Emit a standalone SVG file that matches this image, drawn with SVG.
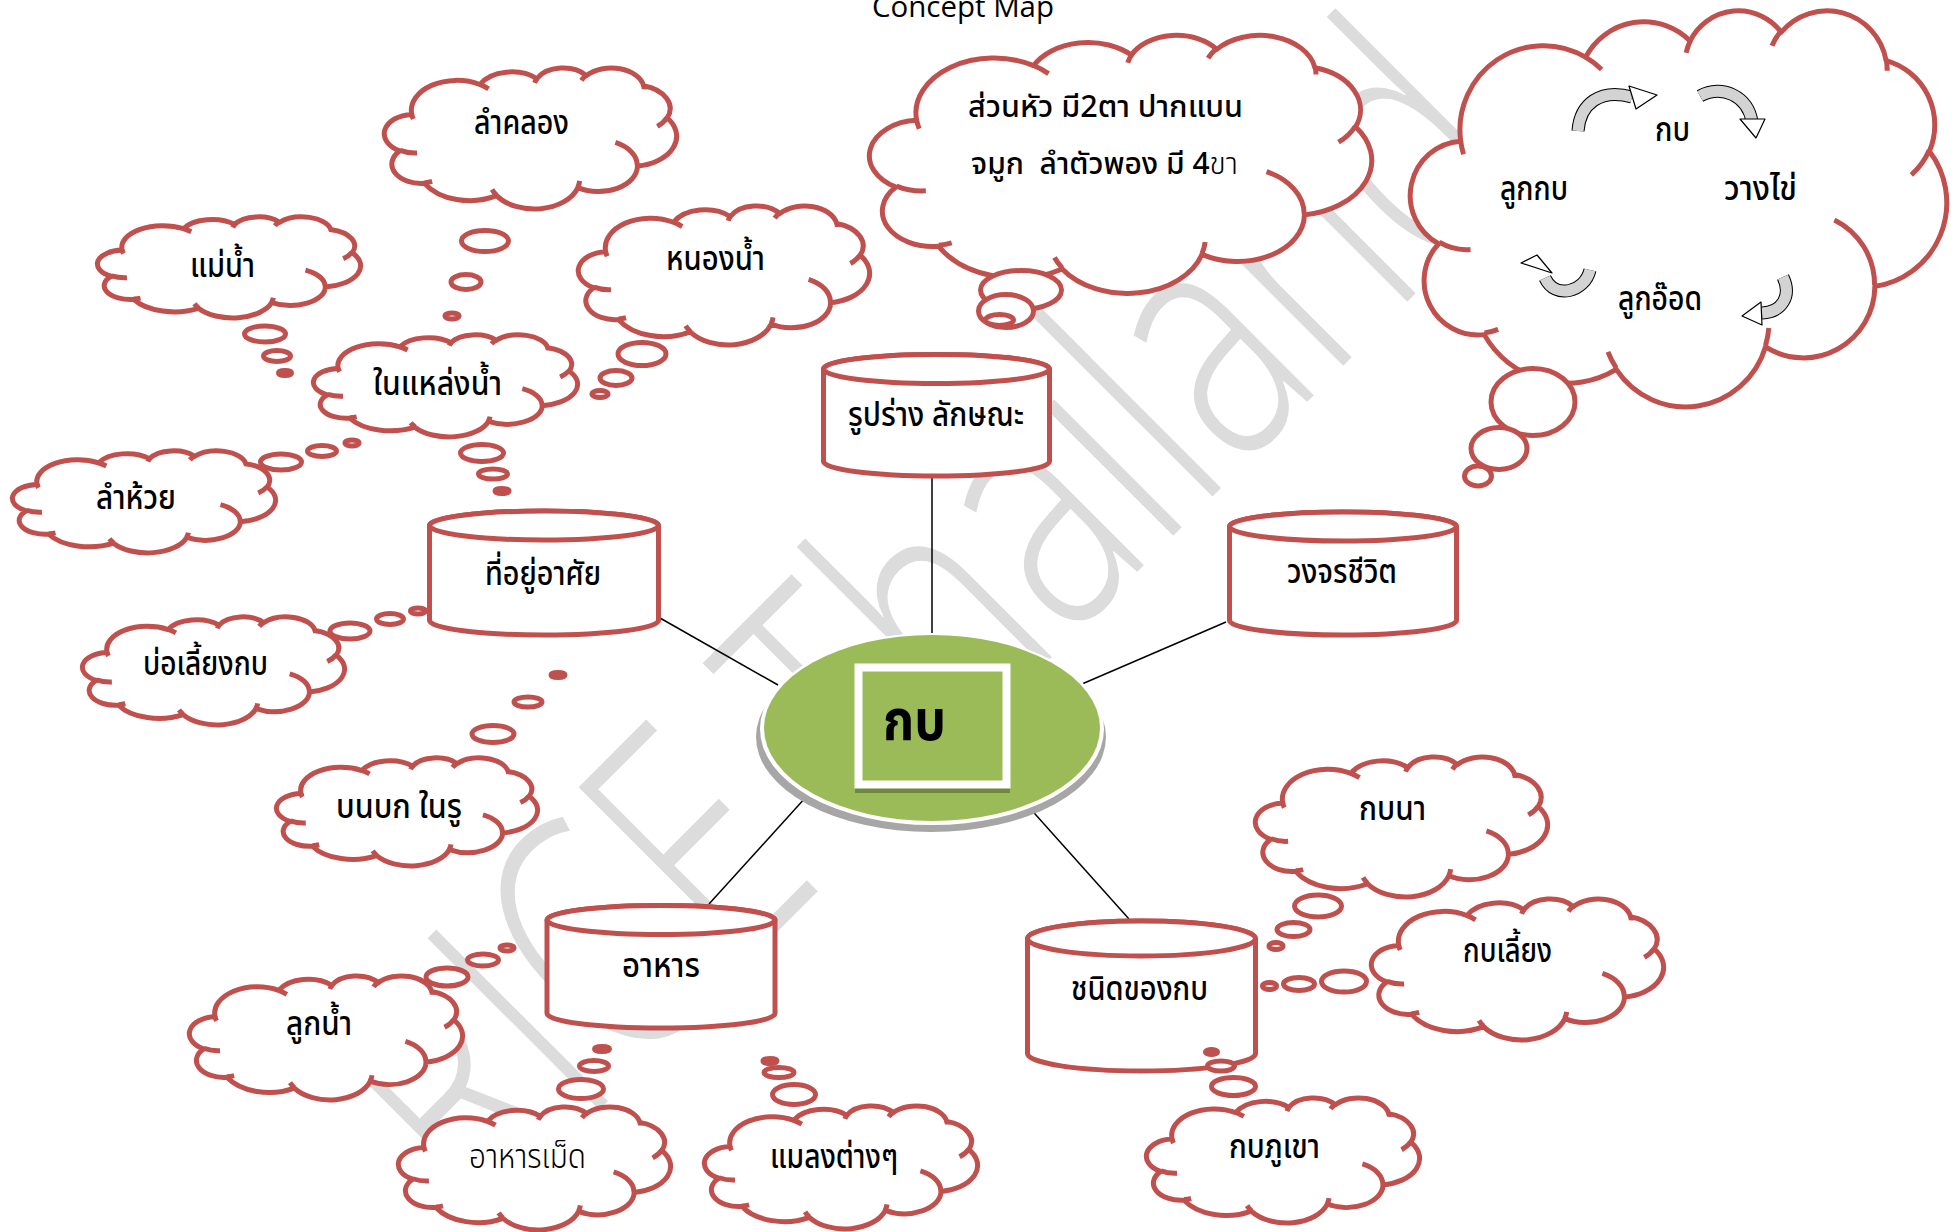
<svg xmlns="http://www.w3.org/2000/svg" xmlns:xlink="http://www.w3.org/1999/xlink" width="1959" height="1232" viewBox="0 0 1959 1232">
<style>
.cl{fill:#fff;stroke:#C0504D;stroke-width:5;vector-effect:non-scaling-stroke;stroke-linejoin:round}
.cli{fill:none;stroke:#C0504D;stroke-width:5;vector-effect:non-scaling-stroke}
.bub{fill:#fff;stroke:#C0504D;stroke-width:5}
.cyl{fill:#fff;stroke:#C0504D;stroke-width:5}
.conn{stroke:#000;stroke-width:1.5;fill:none}
.t{font-family:"Noto Sans Thai","Noto Sans Thai UI","Noto Sans","DejaVu Sans",sans-serif;font-size:33px;fill:#000;font-weight:500}
.t2{font-size:30px}
.thin{font-weight:300}
.wm{font-family:"Open Sans","Lato",sans-serif;font-weight:300;font-size:340px;fill:#DCDCDC}
.band{fill:none;stroke:#000;stroke-width:13}
.bandf{fill:none;stroke:#D3D3D3;stroke-width:11}
.head{fill:#fff;stroke:#000;stroke-width:1.2;stroke-linejoin:round}
</style>
<defs>
<g id="cloudShape">
<path class="cl" d="M3900,14370 A6753,9190 0 0 1 14005,5202 A5333,7267 0 0 1 22457,3433 A4365,5945 0 0 1 29833,2481 A4857,6595 0 0 1 38318,5576 A5333,7273 0 0 1 41819,15460 A6775,9220 0 0 1 37405,30203 A5785,7867 0 0 1 28556,36813 A6752,9215 0 0 1 16481,39263 A7720,10543 0 0 1 5805,35468 A4360,5918 0 0 1 2113,25548 A4345,5945 0 0 1 3900,14370 Z"/>
<path class="cli" d="M4693,26177 A4345,5945 0 0 1 2160,25380 M6928,34899 A4360,5918 0 0 1 5820,35280 M16478,39090 A6752,9215 0 0 1 15810,37350 M28827,34751 A6752,9215 0 0 1 28560,36661 M34129,22954 A5785,7867 0 0 1 37381,30090 M41798,15354 A5333,7273 0 0 1 40349,18031 M38324,5426 A4857,6595 0 0 1 38400,6690 M29078,3952 A4857,6595 0 0 1 29820,2340 M22141,4720 A4365,5945 0 0 1 22500,3330 M14000,5192 A6753,9190 0 0 1 15300,6541 M4127,15789 A6753,9190 0 0 1 3900,14371"/>
</g>
</defs>
<rect width="1959" height="1232" fill="#fff"/>

<text class="wm" transform="translate(762,947) rotate(-45) scale(0.72,1)" x="-556" y="0">RICE Thailand</text>

<text x="872" y="17" font-family="Open Sans" font-size="29" textLength="182" lengthAdjust="spacingAndGlyphs">Concept Map</text>

<g id="connectors">
<line class="conn" x1="932" y1="478" x2="932" y2="636"/>
<line class="conn" x1="1226" y1="622" x2="1082" y2="684"/>
<line class="conn" x1="660" y1="618" x2="778" y2="685"/>
<line class="conn" x1="806" y1="797" x2="709" y2="904"/>
<line class="conn" x1="1027" y1="805" x2="1129" y2="919"/>
</g>

<g id="node-center">
<ellipse cx="931" cy="737" rx="175" ry="95" fill="#A6A6A6"/>
<ellipse cx="932" cy="729" rx="172" ry="96" fill="#fff"/>
<ellipse cx="932" cy="728" rx="168" ry="93" fill="#9BBB59"/>
<rect x="855" y="788" width="155" height="5" fill="#6E8B3D"/>
<rect x="858.5" y="667.5" width="148" height="117" fill="#9BBB59" stroke="#fff" stroke-width="8"/>
<text class="t" x="883" y="740" style="font-size:57px;font-weight:700" textLength="63" lengthAdjust="spacingAndGlyphs">กบ</text>
</g>

<g id="node-shape">
<path class="cyl" d="M823.5,369 V461.5 A113,14.5 0 0 0 1049.5,461.5 V369 A113,14.5 0 0 0 823.5,369 Z"/>
<ellipse class="cyl" cx="936.5" cy="369" rx="113" ry="14.5"/>
<text class="t" x="848" y="426" textLength="176" lengthAdjust="spacingAndGlyphs">รูปร่าง ลักษณะ</text>
</g>

<g id="node-lifecycle">
<path class="cyl" d="M1229.5,526.5 V620.5 A113.5,14.5 0 0 0 1456.5,620.5 V526.5 A113.5,14.5 0 0 0 1229.5,526.5 Z"/>
<ellipse class="cyl" cx="1343" cy="526.5" rx="113.5" ry="14.5"/>
<text class="t" x="1287" y="583" textLength="110" lengthAdjust="spacingAndGlyphs">วงจรชีวิต</text>
</g>

<g id="node-habitat">
<path class="cyl" d="M429.5,525.5 V620.5 A114.5,14.5 0 0 0 658.5,620.5 V525.5 A114.5,14.5 0 0 0 429.5,525.5 Z"/>
<ellipse class="cyl" cx="544" cy="525.5" rx="114.5" ry="14.5"/>
<text class="t" x="485" y="585" textLength="116" lengthAdjust="spacingAndGlyphs">ที่อยู่อาศัย</text>
</g>

<g id="node-food">
<path class="cyl" d="M547,920 V1013.5 A114,14.5 0 0 0 775,1013.5 V920 A114,14.5 0 0 0 547,920 Z"/>
<ellipse class="cyl" cx="661" cy="920" rx="114" ry="14.5"/>
<text class="t" x="622" y="977" textLength="78" lengthAdjust="spacingAndGlyphs">อาหาร</text>
</g>

<g id="node-types">
<path class="cyl" d="M1027.5,938.5 V1053.5 A114,17.5 0 0 0 1255.5,1053.5 V938.5 A114,17.5 0 0 0 1027.5,938.5 Z"/>
<ellipse class="cyl" cx="1141.5" cy="938.5" rx="114" ry="17.5"/>
<text class="t" x="1071" y="1000" textLength="137" lengthAdjust="spacingAndGlyphs">ชนิดของกบ</text>
</g>

<g id="cloud-lamkhlong">
<use href="#cloudShape" transform="translate(385.5,67.5) scale(0.0067361,0.0032639)"/>
<ellipse class="bub" cx="485" cy="241" rx="23.5" ry="10.5"/>
<ellipse class="bub" cx="466" cy="282" rx="15" ry="7.5"/>
<ellipse class="bub" cx="452" cy="316" rx="7" ry="3"/>
<text class="t" x="474" y="134" textLength="95" lengthAdjust="spacingAndGlyphs">ลำคลอง</text>
</g>

<g id="cloud-maenam">
<use href="#cloudShape" transform="translate(98.5,216.5) scale(0.0060648,0.0023380)"/>
<ellipse class="bub" cx="265" cy="334" rx="20.5" ry="8"/>
<ellipse class="bub" cx="277" cy="356" rx="13.5" ry="5.5"/>
<ellipse class="bub" cx="285" cy="373" rx="6.5" ry="2.5"/>
<text class="t" x="190" y="277" textLength="65" lengthAdjust="spacingAndGlyphs">แม่น้ำ</text>
</g>

<g id="cloud-nonnam">
<use href="#cloudShape" transform="translate(579.5,205.5) scale(0.0067130,0.0032176)"/>
<ellipse class="bub" cx="642" cy="354" rx="24" ry="11.5"/>
<ellipse class="bub" cx="616" cy="378" rx="16" ry="7.5"/>
<ellipse class="bub" cx="600" cy="394" rx="8" ry="3.5"/>
<text class="t" x="666" y="270" textLength="99" lengthAdjust="spacingAndGlyphs">หนองน้ำ</text>
</g>

<g id="cloud-inwater">
<use href="#cloudShape" transform="translate(314.5,334.5) scale(0.0060880,0.0023611)"/>
<ellipse class="bub" cx="482" cy="453" rx="21.5" ry="8.5"/>
<ellipse class="bub" cx="493" cy="474" rx="14.5" ry="5"/>
<ellipse class="bub" cx="502" cy="491" rx="7" ry="2.5"/>
<text class="t" x="373" y="395" textLength="129" lengthAdjust="spacingAndGlyphs">ในแหล่งน้ำ</text>
</g>

<g id="cloud-lamhuai">
<use href="#cloudShape" transform="translate(13.5,450.5) scale(0.0060648,0.0023611)"/>
<ellipse class="bub" cx="281" cy="462" rx="20.5" ry="8"/>
<ellipse class="bub" cx="322" cy="451" rx="14.5" ry="5.5"/>
<ellipse class="bub" cx="352" cy="443" rx="7" ry="3"/>
<text class="t" x="96" y="509" textLength="80" lengthAdjust="spacingAndGlyphs">ลำห้วย</text>
</g>

<g id="cloud-head">
<use href="#cloudShape" transform="translate(871.5,34.5) scale(0.0115741,0.0059722)"/>
<ellipse class="bub" cx="1021" cy="290" rx="40.5" ry="19.5"/>
<ellipse class="bub" cx="1006" cy="311" rx="27.5" ry="16.5"/>
<ellipse class="bub" cx="999.5" cy="320" rx="14" ry="5.5"/>
<text class="t t2" x="968" y="117" textLength="275" lengthAdjust="spacingAndGlyphs">ส่วนหัว มี2ตา ปากแบน</text>
<text class="t t2" x="971" y="174" textLength="267" lengthAdjust="spacingAndGlyphs" style="white-space:pre">จมูก  ลำตัวพอง มี 4<tspan class="thin">ขา</tspan></text>
</g>

<g id="cloud-cycle">
<use href="#cloudShape" transform="translate(1412.5,9.5) scale(0.0123611,0.0091667)"/>
<ellipse class="bub" cx="1533" cy="402" rx="42" ry="33.5"/>
<ellipse class="bub" cx="1499" cy="448.5" rx="28" ry="21"/>
<ellipse class="bub" cx="1478" cy="476" rx="13.5" ry="10"/>
<text class="t" x="1655" y="141" textLength="35" lengthAdjust="spacingAndGlyphs">กบ</text>
<text class="t" x="1500" y="200" textLength="68" lengthAdjust="spacingAndGlyphs">ลูกกบ</text>
<text class="t" x="1724" y="200" textLength="73" lengthAdjust="spacingAndGlyphs">วางไข่</text>
<text class="t" x="1618" y="310" textLength="84" lengthAdjust="spacingAndGlyphs">ลูกอ๊อด</text>
<path class="band" d="M1578,131 C1580,104 1600,88 1632,97"/>
<path class="bandf" d="M1578,131 C1580,104 1600,88 1632,97"/>
<polygon class="head" points="1629,86 1657,95 1636,109"/>
<path class="band" d="M1700,96 C1722,84 1748,96 1752,122"/>
<path class="bandf" d="M1700,96 C1722,84 1748,96 1752,122"/>
<polygon class="head" points="1740,119 1765,119 1756,138"/>
<path class="band" d="M1783,277 C1792,296 1782,312 1762,313"/>
<path class="bandf" d="M1783,277 C1792,296 1782,312 1762,313"/>
<polygon class="head" points="1761,302 1742,316 1762,325"/>
<path class="band" d="M1590,270 C1585,292 1555,300 1545,278"/>
<path class="bandf" d="M1590,270 C1585,292 1555,300 1545,278"/>
<polygon class="head" points="1537,255 1521,263 1552,273"/>
</g>

<g id="cloud-pond">
<use href="#cloudShape" transform="translate(83.5,616.5) scale(0.0060417,0.0025)"/>
<ellipse class="bub" cx="350" cy="631" rx="20" ry="8"/>
<ellipse class="bub" cx="390" cy="619" rx="13.5" ry="5.5"/>
<ellipse class="bub" cx="418" cy="611" rx="7.5" ry="3"/>
<text class="t" x="143" y="675" textLength="125" lengthAdjust="spacingAndGlyphs">บ่อเลี้ยงกบ</text>
</g>

<g id="cloud-land">
<use href="#cloudShape" transform="translate(277.5,757.5) scale(0.0060185,0.0025)"/>
<ellipse class="bub" cx="493" cy="734" rx="21" ry="8.5"/>
<ellipse class="bub" cx="528" cy="702" rx="14" ry="5"/>
<ellipse class="bub" cx="558" cy="675" rx="7" ry="2.5"/>
<text class="t" x="336" y="818" textLength="126" lengthAdjust="spacingAndGlyphs">บนบก ในรู</text>
</g>

<g id="cloud-larva">
<use href="#cloudShape" transform="translate(190.5,975.5) scale(0.0062963,0.0028704)"/>
<ellipse class="bub" cx="447" cy="977" rx="21" ry="9"/>
<ellipse class="bub" cx="483" cy="960" rx="15.5" ry="6"/>
<ellipse class="bub" cx="507" cy="948" rx="7" ry="3"/>
<text class="t" x="286" y="1035" textLength="66" lengthAdjust="spacingAndGlyphs">ลูกน้ำ</text>
</g>

<g id="cloud-pellet">
<use href="#cloudShape" transform="translate(399.5,1106.5) scale(0.0062731,0.0028472)"/>
<ellipse class="bub" cx="581" cy="1089" rx="22.5" ry="9.5"/>
<ellipse class="bub" cx="594" cy="1066" rx="14.5" ry="5.5"/>
<ellipse class="bub" cx="602" cy="1049" rx="7.5" ry="2.5"/>
<text class="t thin" x="469" y="1168" textLength="117" lengthAdjust="spacingAndGlyphs">อาหารเม็ด</text>
</g>

<g id="cloud-insects">
<use href="#cloudShape" transform="translate(705.5,1105.5) scale(0.0062963,0.0028472)"/>
<ellipse class="bub" cx="794" cy="1094.5" rx="21.5" ry="10"/>
<ellipse class="bub" cx="779" cy="1072.5" rx="15" ry="5"/>
<ellipse class="bub" cx="770" cy="1061" rx="7" ry="2.5"/>
<text class="t" x="770" y="1168" textLength="128" lengthAdjust="spacingAndGlyphs">แมลงต่างๆ</text>
</g>

<g id="cloud-ricefrog">
<use href="#cloudShape" transform="translate(1256.5,756.5) scale(0.0067361,0.0032407)"/>
<ellipse class="bub" cx="1318" cy="906" rx="23.5" ry="11"/>
<ellipse class="bub" cx="1293.5" cy="929.5" rx="16.5" ry="7"/>
<ellipse class="bub" cx="1276" cy="946" rx="7" ry="3.5"/>
<text class="t" x="1359" y="820" textLength="67" lengthAdjust="spacingAndGlyphs">กบนา</text>
</g>

<g id="cloud-farmfrog">
<use href="#cloudShape" transform="translate(1372.5,898.5) scale(0.0067361,0.0032639)"/>
<ellipse class="bub" cx="1344" cy="981.5" rx="22.5" ry="10.5"/>
<ellipse class="bub" cx="1299" cy="984" rx="15.5" ry="6.5"/>
<ellipse class="bub" cx="1269.5" cy="986" rx="7" ry="3.5"/>
<text class="t" x="1463" y="962" textLength="89" lengthAdjust="spacingAndGlyphs">กบเลี้ยง</text>
</g>

<g id="cloud-mountainfrog">
<use href="#cloudShape" transform="translate(1147.5,1097.5) scale(0.0062963,0.0028935)"/>
<ellipse class="bub" cx="1233.5" cy="1086.5" rx="22" ry="9"/>
<ellipse class="bub" cx="1221" cy="1066" rx="13.5" ry="5"/>
<ellipse class="bub" cx="1211.5" cy="1052" rx="6" ry="2.5"/>
<text class="t" x="1229" y="1158" textLength="91" lengthAdjust="spacingAndGlyphs">กบภูเขา</text>
</g>
</svg>
